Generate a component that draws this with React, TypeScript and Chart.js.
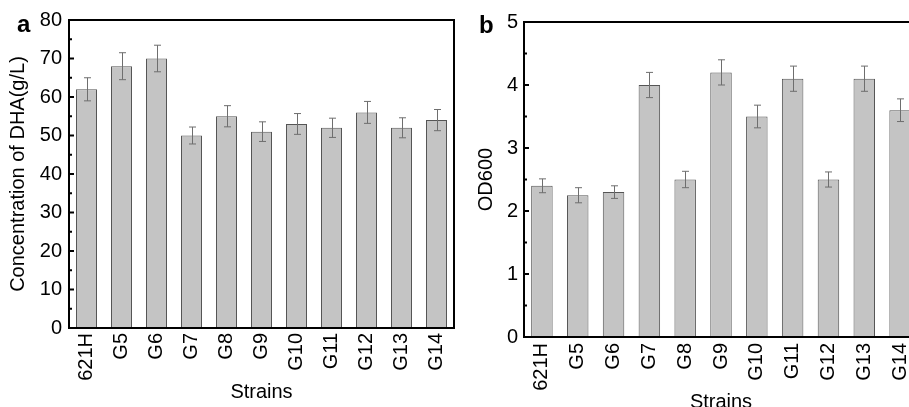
import React, { useEffect, useRef } from 'react';
import { Chart, registerables } from 'chart.js';

Chart.register(...registerables);

const strains = ['621H', 'G5', 'G6', 'G7', 'G8', 'G9', 'G10', 'G11', 'G12', 'G13', 'G14'];

const dhaValues = [62, 68, 70, 50, 55, 51, 53, 52, 56, 52, 54];
const dhaErrors = [3, 3.5, 3.45, 2.2, 2.75, 2.55, 2.7, 2.5, 2.85, 2.6, 2.75];

const odValues = [2.4, 2.25, 2.3, 4.0, 2.5, 4.2, 3.5, 4.1, 2.5, 4.1, 3.6];
const odErrors = [0.11, 0.12, 0.1, 0.2, 0.13, 0.2, 0.18, 0.2, 0.12, 0.2, 0.18];

const dhaAxis = { min: 0, max: 80, step: 10, minor: 5 };
const odAxis = { min: 0, max: 5, step: 1, minor: 0.5 };

const FONT = "'Liberation Sans', Arial, sans-serif";

type PanelProps = {
  left: number;
  width: number;
  height: number;
  values: number[];
  errors: number[];
  axis: { min: number; max: number; step: number; minor: number };
  yTitle: string;
  letter: string;
  letterX: number;
  letterY: number;
  padTop: number;
  padRight: number;
  padBottom: number;
  yWidth: number;
  xHeight: number;
  yTitlePad: number;
  yTickPad: number;
  xTickPad: number;
};

function Panel(p: PanelProps) {
  const ref = useRef<HTMLCanvasElement | null>(null);
  useEffect(() => {
    if (!ref.current) return;
    const decor = {
      id: 'decor',
      afterDatasetsDraw(chart: any) {
        const ctx = chart.ctx;
        const meta = chart.getDatasetMeta(0);
        const ys = chart.scales.y;
        ctx.save();
        ctx.strokeStyle = '#6e6e6e';
        ctx.lineWidth = 1;
        meta.data.forEach((bar: any, i: number) => {
          const x = Math.round(bar.x) + 0.5;
          const top = ys.getPixelForValue(p.values[i] + p.errors[i]);
          const bot = ys.getPixelForValue(p.values[i] - p.errors[i]);
          ctx.beginPath();
          ctx.moveTo(x, top);
          ctx.lineTo(x, bot);
          ctx.moveTo(x - 3.5, top);
          ctx.lineTo(x + 3.5, top);
          ctx.moveTo(x - 3.5, bot);
          ctx.lineTo(x + 3.5, bot);
          ctx.stroke();
        });
        ctx.restore();
      },
      afterDraw(chart: any) {
        const ctx = chart.ctx;
        const a = chart.chartArea;
        const ys = chart.scales.y;
        ctx.save();
        ctx.strokeStyle = '#000';
        ctx.lineWidth = 2;
        ctx.strokeRect(a.left, a.top, a.right - a.left, a.bottom - a.top);
        const n = Math.round((p.axis.max - p.axis.min) / p.axis.minor);
        for (let k = 0; k <= n; k++) {
          const v = p.axis.min + k * p.axis.minor;
          const isMajor = Math.abs(v / p.axis.step - Math.round(v / p.axis.step)) < 1e-6;
          const y = ys.getPixelForValue(v);
          ctx.beginPath();
          ctx.moveTo(a.left, y);
          ctx.lineTo(a.left + (isMajor ? 5 : 3), y);
          ctx.stroke();
        }
        ctx.fillStyle = '#000';
        ctx.font = `bold 24px ${FONT}`;
        ctx.textAlign = 'left';
        ctx.textBaseline = 'alphabetic';
        ctx.fillText(p.letter, p.letterX, p.letterY);
        ctx.restore();
      },
    };
    const chart = new Chart(ref.current, {
      type: 'bar',
      data: {
        labels: strains,
        datasets: [
          {
            data: p.values,
            backgroundColor: '#c4c4c4',
            borderColor: '#555555',
            borderWidth: 1,
            barPercentage: 0.6,
            categoryPercentage: 1,
          },
        ],
      },
      options: {
        responsive: false,
        animation: false,
        devicePixelRatio: 1,
        layout: { padding: { top: p.padTop, right: p.padRight, bottom: p.padBottom, left: 0 } },
        plugins: { legend: { display: false }, tooltip: { enabled: false } },
        scales: {
          x: {
            grid: { display: false, drawTicks: false },
            border: { display: false },
            ticks: {
              autoSkip: false,
              minRotation: 90,
              maxRotation: 90,
              padding: p.xTickPad,
              color: '#000',
              font: { family: FONT, size: 20 },
            },
            title: {
              display: true,
              text: 'Strains',
              color: '#000',
              font: { family: FONT, size: 20 },
              padding: { top: 4, bottom: 0 },
            },
            afterFit: (s: any) => {
              s.height = p.xHeight;
              s.paddingLeft = 0;
              s.paddingRight = 0;
            },
          },
          y: {
            min: p.axis.min,
            max: p.axis.max,
            grid: { display: false, drawTicks: false },
            border: { display: false },
            ticks: {
              stepSize: p.axis.step,
              padding: p.yTickPad,
              color: '#000',
              font: { family: FONT, size: 20 },
            },
            title: {
              display: true,
              text: p.yTitle,
              color: '#000',
              font: { family: FONT, size: 20 },
              padding: { top: p.yTitlePad, bottom: 0 },
            },
            afterFit: (s: any) => {
              s.width = p.yWidth;
              s.paddingTop = 0;
              s.paddingBottom = 0;
            },
          },
        },
      },
      plugins: [decor],
    });
    return () => chart.destroy();
  }, []);
  return (
    <canvas
      ref={ref}
      width={p.width}
      height={p.height}
      style={{ position: 'absolute', left: p.left, top: 0, width: p.width, height: p.height }}
    />
  );
}

export default function App() {
  return (
    <div
      style={{
        position: 'fixed',
        left: 0,
        top: 0,
        width: 909,
        height: 407,
        overflow: 'hidden',
        background: '#fff',
      }}
    >
      <Panel
        left={0}
        width={462}
        height={420}
        values={dhaValues}
        errors={dhaErrors}
        axis={dhaAxis}
        yTitle="Concentration of DHA(g/L)"
        letter="a"
        letterX={17}
        letterY={32}
        padTop={20}
        padRight={8}
        padBottom={16}
        yWidth={69}
        xHeight={76}
        yTitlePad={6}
        yTickPad={7}
        xTickPad={5}
      />
      <Panel
        left={460}
        width={460}
        height={420}
        values={odValues}
        errors={odErrors}
        axis={odAxis}
        yTitle="OD600"
        letter="b"
        letterX={19}
        letterY={33}
        padTop={22}
        padRight={2}
        padBottom={6}
        yWidth={64}
        xHeight={77}
        yTitlePad={14}
        yTickPad={6}
        xTickPad={6}
      />
    </div>
  );
}
